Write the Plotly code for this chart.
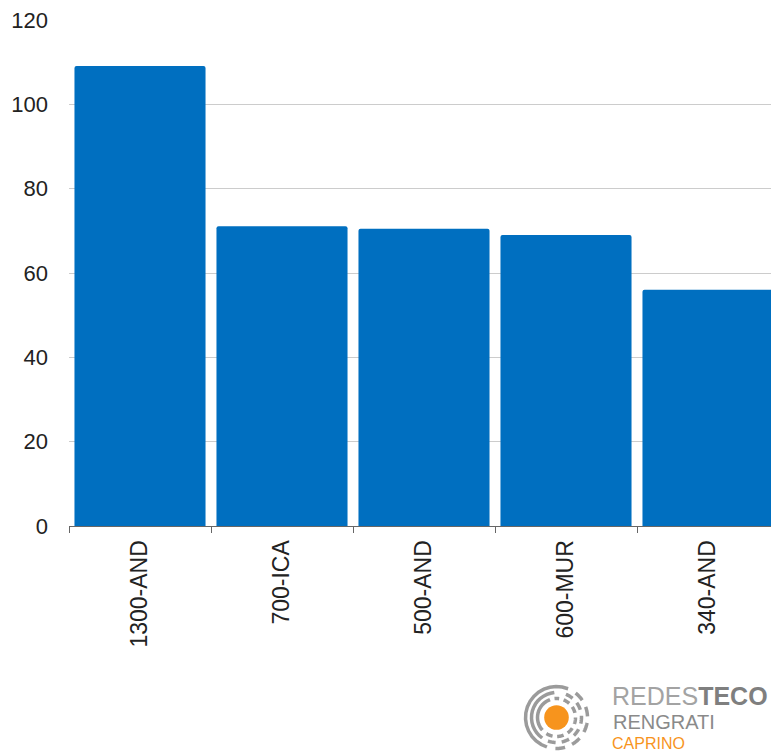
import math
import plotly.graph_objects as go

categories = ["1300-AND", "700-ICA", "500-AND", "600-MUR", "340-AND"]
values = [109.1, 71.1, 70.5, 69.0, 56.0]
y_ticks = [0, 20, 40, 60, 80, 100, 120]

W, H = 771, 753
ML, MT, MR = 69, 20, 0
PLOT_BOTTOM = 526
MB = H - PLOT_BOTTOM
PW = W - ML - MR
PH = PLOT_BOTTOM - MT


def px(x):
    return (x - ML) / PW


def py(y):
    return (PLOT_BOTTOM - y) / PH


fig = go.Figure(
    go.Bar(
        x=categories,
        y=values,
        marker=dict(color="#006fc0", cornerradius=2, line=dict(width=0)),
        hoverinfo="x+y",
    )
)

# ---- logo (decoration) ----
cx, cy = 556.5, 717.5


def arc_path(r, a0, a1, n=16):
    pts = []
    for i in range(n + 1):
        a = math.radians(a0 + (a1 - a0) * i / n)
        pts.append((px(cx + r * math.cos(a)), py(cy - r * math.sin(a))))
    return "M " + " L ".join(f"{x:.5f},{y:.5f}" for x, y in pts)


rings = [
    (31, [(68, 252), (268, 286), (300, 318), (332, 350), (2, 20), (34, 52)]),
    (25, [(95, 235), (250, 268), (282, 300), (314, 332), (346, 4), (18, 36), (50, 68)]),
    (19, [(110, 222), (238, 258), (272, 292), (306, 326), (340, 360), (14, 34), (48, 68), (82, 96)]),
]
shapes = []
for r, segs in rings:
    for a0, a1 in segs:
        if a1 < a0:
            a1 += 360
        shapes.append(dict(type="path", xref="paper", yref="paper",
                           path=arc_path(r, a0, a1),
                           line=dict(color="#9b9b9b", width=3.5)))
shapes.append(dict(
    type="circle", xref="paper", yref="paper",
    x0=px(cx - 12.3), x1=px(cx + 12.3), y0=py(cy + 12.3), y1=py(cy - 12.3),
    fillcolor="#f7941d", line=dict(width=0),
))

annotations = [
    dict(xref="paper", yref="paper", x=px(610), y=py(696), xanchor="left", yanchor="middle",
         text="<span style='color:#a3a3a3'>REDES</span><b style='color:#7f7f7f'>TECO</b>",
         showarrow=False, font=dict(family="Liberation Sans, Arial", size=25)),
    dict(xref="paper", yref="paper", x=px(611), y=py(722), xanchor="left", yanchor="middle",
         text="RENGRATI", showarrow=False,
         font=dict(family="Liberation Sans, Arial", size=20, color="#8a8a8a")),
    dict(xref="paper", yref="paper", x=px(611), y=py(753), xanchor="left", yanchor="bottom",
         text="CAPRINO", showarrow=False, borderpad=0,
         font=dict(family="Liberation Sans, Arial", size=16, color="#f7941d")),
]

fig.update_layout(
    width=W, height=H,
    margin=dict(l=ML, r=MR, t=MT, b=MB, pad=0),
    paper_bgcolor="white", plot_bgcolor="white",
    bargap=0.077,
    showlegend=False,
    font=dict(family="Liberation Sans, Arial", color="#222222"),
    shapes=shapes,
    annotations=annotations,
    xaxis=dict(
        range=[-0.5, -0.5 + PW / 142.0],
        tickangle=-90,
        tickfont=dict(size=23, color="#222222"),
        showline=True, linecolor="#666666", linewidth=1,
        ticks="outside", ticklen=6, tickcolor="#666666",
        tickson="boundaries",
        ticklabelstandoff=4,
        showgrid=False,
        fixedrange=True,
    ),
    yaxis=dict(
        range=[0, 120],
        tickvals=y_ticks,
        tickfont=dict(size=22, color="#222222"),
        showgrid=True, gridcolor="#cccccc", gridwidth=1,
        zeroline=False, showline=False,
        ticks="", ticklabelstandoff=20,
        fixedrange=True,
    ),
)

fig.write_html(
    "out.html",
    config={"displayModeBar": False},
    post_script="document.body.style.margin='0';document.body.style.overflow='hidden';",
)
